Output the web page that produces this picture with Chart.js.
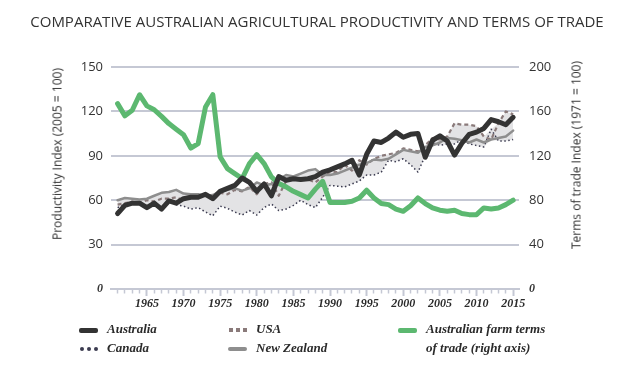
<!DOCTYPE html>
<html><head><meta charset="utf-8">
<script src="https://cdn.jsdelivr.net/npm/chart.js@4"></script>
<style>
html,body{margin:0;padding:0;background:#fff;}
#wrap{position:relative;width:634px;height:383px;overflow:hidden;background:#fff;}
#c{position:absolute;left:0;top:0;}
.title{position:absolute;left:0;width:634px;top:11px;text-align:center;font-family:'Open Sans';font-size:15px;color:#333;white-space:nowrap;}
.yt{position:absolute;width:0;height:0;}
.yt span{position:absolute;left:0;top:0;font-family:'Open Sans';font-size:12px;color:#333;white-space:nowrap;transform:translate(-50%,-50%) rotate(-90deg);}
.lt{position:absolute;font-family:'Liberation Serif';font-style:italic;font-weight:bold;font-size:13px;line-height:16px;color:#2b2b2b;white-space:nowrap;}
.sw{position:absolute;}
</style>
</head><body>
<div id="wrap">
<canvas id="c" width="634" height="383"></canvas>
<div class="title">COMPARATIVE AUSTRALIAN AGRICULTURAL PRODUCTIVITY AND TERMS OF TRADE</div>
<div class="yt" style="left:57px;top:154px"><span>Productivity Index (2005 = 100)</span></div>
<div class="yt" style="left:576px;top:155px"><span>Terms of trade Index (1971 = 100)</span></div>
<div id="legend"></div>
</div>
<script>
const years = [1961,1962,1963,1964,1965,1966,1967,1968,1969,1970,
1971,1972,1973,1974,1975,1976,1977,1978,1979,1980,
1981,1982,1983,1984,1985,1986,1987,1988,1989,1990,
1991,1992,1993,1994,1995,1996,1997,1998,1999,2000,
2001,2002,2003,2004,2005,2006,2007,2008,2009,2010,
2011,2012,2013,2014,2015];

const australia = [51,56.5,58,58,55,58,54,59.5,58,61,
62,62,64,61,66,68,70,75,72,66,
71,63,76,73.5,74.5,74,74.5,76,79,80.5,
82.5,84.5,87,77,91,100,99,102,106,102.5,
104.5,105,89,100.5,103.5,100,90.5,98.5,104.5,106,
108.5,114.5,113,111,116];

const newZealand = [60,61.5,61,60.5,61,63,65,65.5,67,64.5,
64,64,63,63.5,66,67,68,66.5,68,72,
70,71,74,77,76,78,80,81,77,77,
78,80,82,84,85,87.5,87,88,91,94,
93,92,96,97,99,102,101.5,100.5,99,101,
99,101,102,103,107];

const usa = [57,58,59,58,60,59,61,61,62,60,
64,63,64,60,65,64,67,66,69,64,
71,72,63,73,75,75,74,72,76,79,
79,84,80,87,84,88,90,91,92,95,
94,93,97,102,101,103,112,111,111,110,
103,101,112,120,118];

const canada = [55,57,58,57,56,58,55,59,57,56,
54,55,52,49.5,56,54.5,52,50,53,50,
55,57.5,53,54,56.5,60,57,55,62,70,
69.5,69,71,73,77,77,79,87,86,88,
84,79,90,99,97,98,98,101,98,97,
96,108,100,100,101];

const termsOfTrade = [167,156,161,175,165,161.5,155.5,149,144,139,
127,131,164,175,119,108.5,104,99.5,113,121,
113,101,95,92,88,85,82,90,97,78,
78,78,79,82,89,82,77,76,72,70,
75,82,77,73,71,70,71,68,67,67,
73,72,73,76,80];

const leftTicks = [0,30,60,90,120,150];
const rightTicks = [0,40,80,120,160,200];
const yearLabels = [1965,1970,1975,1980,1985,1990,1995,2000,2005,2010,2015];

// band spanning the other countries
const bandHigh = years.map((_, i) => Math.max(canada[i], usa[i], newZealand[i]));
const bandLow = years.map((_, i) => Math.min(canada[i], usa[i], newZealand[i]));

const GRID = '#c5c8d4';
const serifBI = {family:'Liberation Serif', style:'italic', weight:'bold', size:12};
const sans13 = {family:'Open Sans', size:13};

const line = (label, data, color, width, extra) => Object.assign({
  label, data, borderColor: color, borderWidth: width, pointRadius: 0,
  fill: false, tension: 0, borderJoinStyle: 'round', borderCapStyle: 'round', yAxisID: 'y'
}, extra || {});

new Chart(document.getElementById('c'), {
  type: 'line',
  data: {
    labels: years,
    datasets: [
      line('Australia', australia, '#333333', 5),
      line('Australian farm terms of trade (right axis)', termsOfTrade, '#5cb870', 5, {yAxisID: 'y1'}),
      line('New Zealand', newZealand, '#8e8e8e', 2.5),
      line('USA', usa, '#8a7a7a', 2.2, {borderDash: [4, 3], borderCapStyle: 'butt'}),
      line('Canada', canada, '#3b3b50', 1.5, {borderDash: [1.5, 2.5], borderCapStyle: 'butt'}),
      line('bandHigh', bandHigh, 'rgba(0,0,0,0)', 0, {fill: '+1', backgroundColor: '#e3e3e5'}),
      line('bandLow', bandLow, 'rgba(0,0,0,0)', 0)
    ]
  },
  options: {
    responsive: false,
    animation: false,
    layout: {padding: {top: 67, left: 0, right: 0, bottom: 0}},
    plugins: {legend: {display: false}, tooltip: {enabled: false}},
    scales: {
      x: {
        type: 'linear', min: 1960.1, max: 2015.8,
        afterBuildTicks: s => { s.ticks = years.map(v => ({value: v})); },
        afterFit: s => { s.height = 383 - 289; },
        ticks: {
          autoSkip: false, maxRotation: 0, padding: 1,
          callback: v => yearLabels.includes(v) ? String(v) : '',
          font: serifBI, color: '#2b2b2b'
        },
        grid: {
          drawOnChartArea: false, tickLength: 7, tickColor: GRID,
          tickWidth: ctx => (ctx.tick && ctx.tick.value % 5 === 0) ? 2 : 1.5,
          tickBorderDash: ctx => (ctx.tick && ctx.tick.value % 5 === 0) ? [] : [3.5, 40]
        },
        border: {display: true, color: GRID, width: 2}
      },
      y: {
        position: 'left', min: 0, max: 150,
        afterBuildTicks: s => { s.ticks = leftTicks.map(v => ({value: v})); },
        afterFit: s => { s.width = 111; },
        ticks: {
          padding: 8, color: '#333',
          font: ctx => (ctx.tick && ctx.tick.value === 0) ? serifBI : sans13
        },
        grid: {
          color: ctx => (ctx.tick && ctx.tick.value === 0) ? 'rgba(0,0,0,0)' : GRID,
          lineWidth: 2, drawTicks: false
        },
        border: {display: false}
      },
      y1: {
        position: 'right', min: 0, max: 200,
        afterBuildTicks: s => { s.ticks = rightTicks.map(v => ({value: v})); },
        afterFit: s => { s.width = 115; },
        ticks: {
          padding: 10, color: '#333',
          font: ctx => (ctx.tick && ctx.tick.value === 0) ? serifBI : sans13
        },
        grid: {drawOnChartArea: false, drawTicks: false},
        border: {display: false}
      }
    }
  }
});

// HTML legend
const legendItems = [
  {text: 'Australia', x: 79, y: 328, sw: 'bar', color: '#333333', h: 5},
  {text: 'Canada', x: 79, y: 347, sw: 'dots', color: '#3b3b50'},
  {text: 'USA', x: 228, y: 328, sw: 'squares', color: '#8a7a7a'},
  {text: 'New Zealand', x: 228, y: 347, sw: 'bar', color: '#8e8e8e', h: 4},
  {text: 'Australian farm terms', x: 398, y: 328, sw: 'bar', color: '#5cb870', h: 5},
  {text: 'of trade (right axis)', x: 398, y: 347, sw: null}
];
const lg = document.getElementById('legend');
legendItems.forEach(it => {
  if (it.sw === 'bar') {
    const d = document.createElement('div');
    d.className = 'sw';
    d.style.cssText = `left:${it.x}px;top:${it.y + 2 - it.h / 2}px;width:19px;height:${it.h}px;background:${it.color};border-radius:2px;`;
    lg.appendChild(d);
  } else if (it.sw === 'dots' || it.sw === 'squares') {
    for (let k = 0; k < 3; k++) {
      const d = document.createElement('div');
      d.className = 'sw';
      const r = it.sw === 'dots' ? '50%' : '0';
      d.style.cssText = `left:${it.x + 1 + k * 7}px;top:${it.y}px;width:4px;height:4px;background:${it.color};border-radius:${r};`;
      lg.appendChild(d);
    }
  }
  const t = document.createElement('div');
  t.className = 'lt';
  t.textContent = it.text;
  t.style.left = (it.x + 28) + 'px';
  t.style.top = (it.y - 7) + 'px';
  lg.appendChild(t);
});
</script>
</body></html>
